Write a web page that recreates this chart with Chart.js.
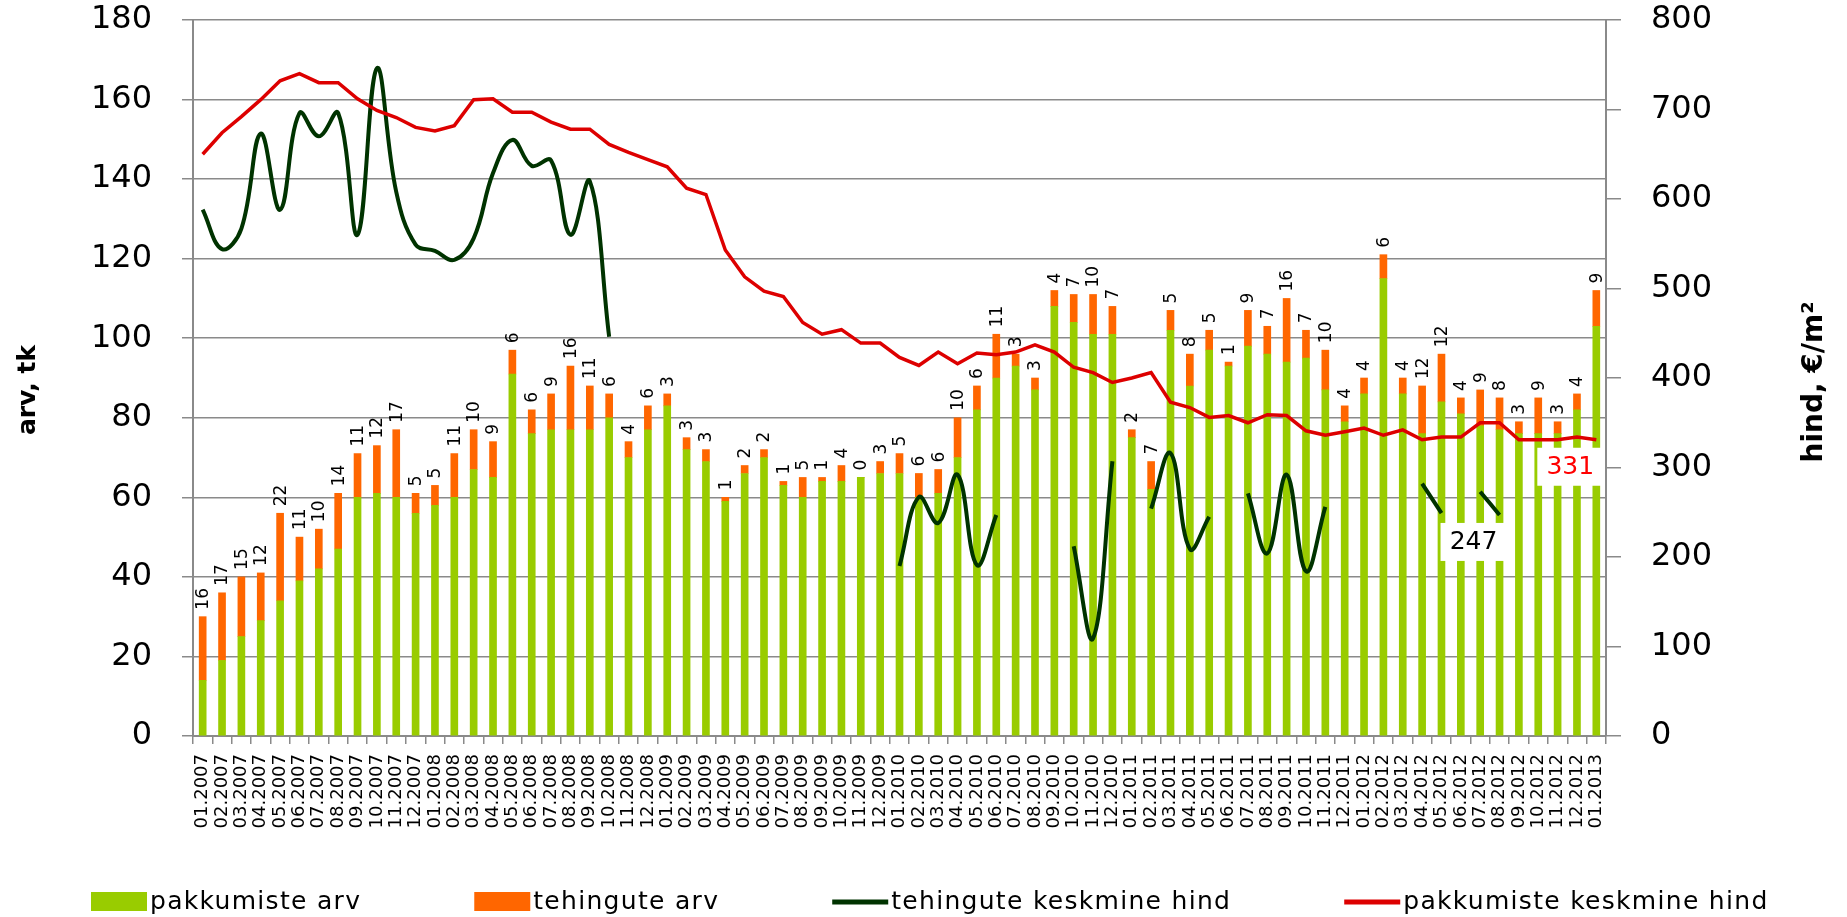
<!DOCTYPE html>
<html>
<head>
<meta charset="utf-8">
<script src="https://cdn.jsdelivr.net/npm/chart.js@4.4.1/dist/chart.umd.min.js"></script>
<style>
html,body{margin:0;padding:0;background:#fff;}
#wrap{width:1847px;height:917px;position:relative;}
</style>
</head>
<body>
<div id="wrap"><canvas id="c"></canvas></div>
<script>
const categories = [
 "01.2007","02.2007","03.2007","04.2007","05.2007","06.2007","07.2007","08.2007","09.2007","10.2007","11.2007","12.2007",
 "01.2008","02.2008","03.2008","04.2008","05.2008","06.2008","07.2008","08.2008","09.2008","10.2008","11.2008","12.2008",
 "01.2009","02.2009","03.2009","04.2009","05.2009","06.2009","07.2009","08.2009","09.2009","10.2009","11.2009","12.2009",
 "01.2010","02.2010","03.2010","04.2010","05.2010","06.2010","07.2010","08.2010","09.2010","10.2010","11.2010","12.2010",
 "01.2011","02.2011","03.2011","04.2011","05.2011","06.2011","07.2011","08.2011","09.2011","10.2011","11.2011","12.2011",
 "01.2012","02.2012","03.2012","04.2012","05.2012","06.2012","07.2012","08.2012","09.2012","10.2012","11.2012","12.2012",
 "01.2013"
];
// pakkumiste arv (green bars)
const pakkumisteArv = [
 14,19,25,29,34,39,42,47,60,61,60,56,
 58,60,67,65,91,76,77,77,77,80,70,77,
 83,72,69,59,66,70,63,60,64,64,65,66,
 66,60,61,70,82,90,93,87,108,104,101,101,
 75,62,102,88,97,93,98,96,94,95,87,79,
 86,115,86,76,84,81,78,77,76,76,76,82,
 103
];
// tehingute arv (orange bars, also the value labels)
const tehinguteArv = [
 16,17,15,12,22,11,10,14,11,12,17,5,
 5,11,10,9,6,6,9,16,11,6,4,6,
 3,3,3,1,2,2,1,5,1,4,0,3,
 5,6,6,10,6,11,3,3,4,7,10,7,
 2,7,5,8,5,1,9,7,16,7,10,4,
 4,6,4,12,12,4,9,8,3,9,3,4,
 9
];
// tehingute keskmine hind (dark green line, right axis)
const tehinguteHind = [
 588,544,567,673,588,696,670,696,560,746,608,549,
 542,532,556,629,666,637,643,560,620,446,null,null,
 null,null,null,null,null,null,null,null,null,null,null,null,
 190,267,238,292,191,247,null,null,null,212,109,307,
 null,254,316,209,245,null,271,204,292,184,256,null,
 null,null,null,282,249,null,273,247,null,null,null,null,
 null
];
// pakkumiste keskmine hind (red line, right axis)
const pakkumisteHind = [
 650,674,692,711,732,740,730,730,712,699,691,680,
 676,682,711,712,697,697,686,678,678,661,652,644,
 636,612,605,543,513,497,491,462,449,454,439,439,
 423,414,429,416,428,426,429,437,429,412,406,395,
 400,406,373,367,356,358,350,359,358,341,336,340,
 344,336,342,331,334,334,350,350,331,331,331,334,
 331
];
const leftTicks = [0,20,40,60,80,100,120,140,160,180];
const rightTicks = [0,100,200,300,400,500,600,700,800];
const seriesNames = ["pakkumiste arv","tehingute arv","tehingute keskmine hind","pakkumiste keskmine hind"];
const leftTitle = "arv, tk";
const rightTitle = "hind, €/m²";
// callouts: [dataset index, category index, text colour]
const callouts = [[2, 67, "#000000"], [3, 72, "#ff0000"]];

const FONT = '"DejaVu Sans", Verdana, sans-serif';
const GRID = '#8a8a8a';
const COLORS = ['#99cc00', '#ff6600', '#003300', '#dd0000'];

const overlay = {
  id: 'overlay',
  afterDatasetsDraw(chart) {
    const ctx = chart.ctx;
    const meta = chart.getDatasetMeta(1);
    ctx.save();
    ctx.fillStyle = '#000';
    ctx.font = '17px ' + FONT;
    ctx.textAlign = 'left';
    ctx.textBaseline = 'middle';
    meta.data.forEach((el, i) => {
      ctx.save();
      ctx.translate(el.x + 1, el.y - 7);
      ctx.rotate(-Math.PI / 2);
      ctx.fillText(String(tehinguteArv[i]), 0, 0);
      ctx.restore();
    });
    ctx.restore();
    callouts.forEach(([ds, idx, col]) => {
      const el = chart.getDatasetMeta(ds).data[idx];
      const val = chart.data.datasets[ds].data[idx];
      const cx = el.x - 26, cy = el.y + 27;
      ctx.save();
      ctx.fillStyle = '#fff';
      ctx.fillRect(cx - 33, cy - 19, 66, 38);
      ctx.fillStyle = col;
      ctx.font = '25px ' + FONT;
      ctx.textAlign = 'center';
      ctx.textBaseline = 'middle';
      ctx.fillText(String(val), cx, cy + 1);
      ctx.restore();
    });
  },
  afterDraw(chart) {
    const ctx = chart.ctx;
    ctx.save();
    ctx.fillStyle = '#000';
    ctx.textAlign = 'center';
    ctx.textBaseline = 'middle';
    ctx.font = 'bold 25px ' + FONT;
    ctx.save(); ctx.translate(28, 390); ctx.rotate(-Math.PI / 2); ctx.fillText(leftTitle, 0, 0); ctx.restore();
    ctx.font = 'bold 28px ' + FONT;
    ctx.save(); ctx.translate(1815, 382); ctx.rotate(-Math.PI / 2); ctx.fillText(rightTitle, 0, 0); ctx.restore();
    ctx.restore();
    ctx.save();
    ctx.font = '25px ' + FONT;
    ctx.letterSpacing = '1.3px';
    ctx.textAlign = 'left';
    ctx.textBaseline = 'middle';
    let x = 91;
    const yc = 902;
    chart.data.datasets.forEach((d, i) => {
      ctx.fillStyle = COLORS[i];
      if (d.type === 'line') ctx.fillRect(x, yc - 2.5, 56, 5);
      else ctx.fillRect(x, yc - 10, 56, 19);
      ctx.fillStyle = '#000';
      ctx.fillText(d.label, x + 59, yc);
      x += 59 + ctx.measureText(d.label).width + 113;
    });
    ctx.restore();
  }
};

function noPad(s) { s.paddingTop = 0; s.paddingBottom = 0; }

new Chart(document.getElementById('c'), {
  type: 'bar',
  data: {
    labels: categories,
    datasets: [
      { type: 'bar', label: seriesNames[0], data: pakkumisteArv, backgroundColor: COLORS[0], barThickness: 7, borderWidth: 0, yAxisID: 'y', order: 2 },
      { type: 'bar', label: seriesNames[1], data: tehinguteArv, backgroundColor: COLORS[1], barThickness: 7, borderWidth: 0, yAxisID: 'y', order: 2 },
      { type: 'line', label: seriesNames[2], data: tehinguteHind, borderColor: COLORS[2], backgroundColor: COLORS[2], borderWidth: 4, pointRadius: 0, tension: 0.4, spanGaps: false, yAxisID: 'y2', order: 1 },
      { type: 'line', label: seriesNames[3], data: pakkumisteHind, borderColor: COLORS[3], backgroundColor: COLORS[3], borderWidth: 3.5, pointRadius: 0, tension: 0, yAxisID: 'y2', order: 0 }
    ]
  },
  options: {
    responsive: true,
    maintainAspectRatio: false,
    animation: false,
    layout: { padding: { top: 20, left: 0, right: 0, bottom: 0 } },
    plugins: { legend: { display: false }, tooltip: { enabled: false } },
    scales: {
      x: {
        stacked: true,
        grid: { drawOnChartArea: false, drawTicks: true, tickLength: 8, color: GRID, lineWidth: 1.5 },
        border: { display: true, color: GRID, width: 2 },
        ticks: { autoSkip: false, minRotation: 90, maxRotation: 90, padding: 10, color: '#000', font: { family: FONT, size: 18 } },
        afterFit(s) { s.height = 181; s.paddingLeft = 0; s.paddingRight = 0; }
      },
      y: {
        type: 'linear', position: 'left', stacked: true, min: 0, max: 180,
        afterBuildTicks(s) { s.ticks = leftTicks.map(v => ({ value: v })); },
        ticks: { padding: 30, color: '#000', font: { family: FONT, size: 32 } },
        grid: { color: GRID, lineWidth: 1.5, tickLength: 11, drawTicks: true },
        border: { color: GRID, width: 2 },
        afterFit(s) { s.width = 193; noPad(s); }
      },
      y2: {
        type: 'linear', position: 'right', min: 0, max: 800,
        afterBuildTicks(s) { s.ticks = rightTicks.map(v => ({ value: v })); },
        ticks: { padding: 30, color: '#000', font: { family: FONT, size: 32 } },
        grid: { drawOnChartArea: false, color: GRID, lineWidth: 1.5, tickLength: 15, drawTicks: true },
        border: { color: GRID, width: 2 },
        afterFit(s) { s.width = 241; noPad(s); }
      }
    }
  },
  plugins: [overlay]
});
</script>
</body>
</html>
